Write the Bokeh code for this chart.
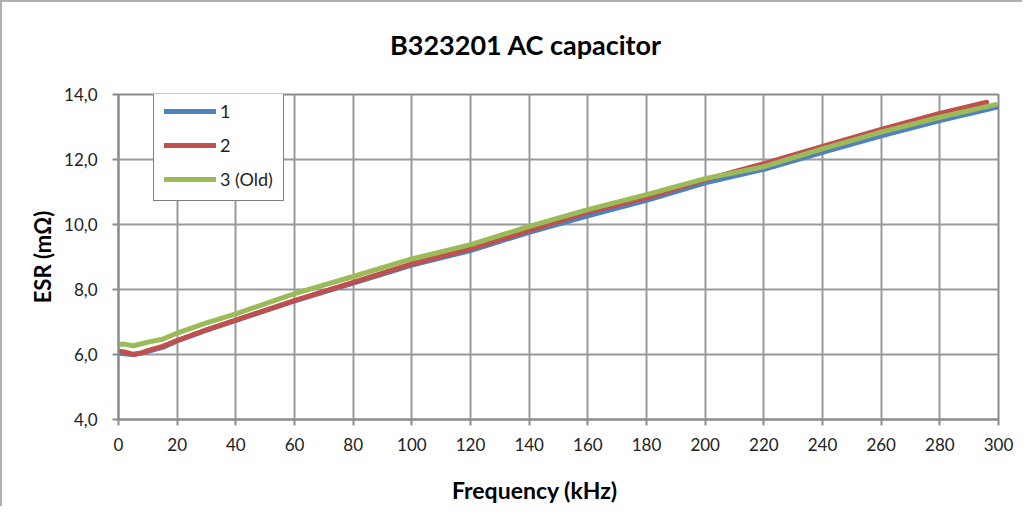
from bokeh.plotting import figure
from bokeh.models import Range1d, FixedTicker, Legend, LegendItem, Div
from bokeh.layouts import column
from bokeh.embed import file_html
from bokeh.resources import INLINE

FONT = "Lato"

freq1 = [0, 2, 5, 8, 10, 15, 20, 30, 40, 60, 80, 100, 120, 140, 160, 180, 200, 220, 240, 260, 280, 300]
esr1 = [6.05, 6.02, 6.00, 6.05, 6.10, 6.22, 6.42, 6.75, 7.05, 7.65, 8.20, 8.75, 9.20, 9.76, 10.27, 10.74, 11.28, 11.70, 12.22, 12.73, 13.20, 13.62]

freq2 = [0, 2, 5, 8, 10, 15, 20, 30, 40, 60, 80, 100, 120, 140, 160, 180, 200, 220, 240, 260, 280, 296]
esr2 = [6.10, 6.08, 6.00, 6.05, 6.12, 6.25, 6.43, 6.76, 7.06, 7.66, 8.22, 8.79, 9.25, 9.82, 10.38, 10.82, 11.38, 11.87, 12.40, 12.93, 13.42, 13.76]

freq3 = [0, 2, 5, 8, 10, 15, 20, 30, 40, 60, 80, 100, 120, 140, 160, 180, 200, 220, 240, 260, 280, 299]
esr3 = [6.31, 6.32, 6.27, 6.33, 6.38, 6.47, 6.66, 6.97, 7.25, 7.87, 8.40, 8.94, 9.38, 9.94, 10.46, 10.92, 11.41, 11.78, 12.33, 12.84, 13.30, 13.69]

series_names = ["1", "2", "3 (Old)"]
series_colors = ["#4F81BD", "#C0504D", "#9BBB59"]

x_ticks = list(range(0, 301, 20))
y_ticks = [4, 6, 8, 10, 12, 14]
y_tick_labels = ["4,0", "6,0", "8,0", "10,0", "12,0", "14,0"]

title_text = "B323201 AC capacitor"
x_label = "Frequency (kHz)"
y_label = "ESR (m\u03a9)"

title_div = Div(text=title_text, width=1020, height=58, margin=0,
                styles={"font-family": FONT, "font-size": "27px", "font-weight": "bold",
                        "color": "#000000", "line-height": "32px",
                        "padding-top": "27px", "padding-left": "388px", "box-sizing": "border-box",
                        "white-space": "nowrap"})

p = figure(width=1020, height=399, output_backend="svg", toolbar_location=None,
           x_range=Range1d(0, 300), y_range=Range1d(4, 14), margin=0,
           min_border_left=116, min_border_right=24, min_border_top=34, min_border_bottom=40)

p.outline_line_color = "#8c8c8c"
p.outline_line_width = 2

for ax in (p.xaxis[0], p.yaxis[0]):
    ax.axis_line_color = "#8c8c8c"
    ax.axis_line_width = 2
    ax.major_tick_line_color = "#8c8c8c"
    ax.major_tick_line_width = 2
    ax.major_tick_out = 6
    ax.major_tick_in = 0
    ax.minor_tick_line_color = None
    ax.major_label_text_font = FONT
    ax.major_label_text_font_size = "17px"
    ax.major_label_text_color = "#222222"

p.xaxis.ticker = FixedTicker(ticks=x_ticks)
p.yaxis.ticker = FixedTicker(ticks=y_ticks)
p.yaxis.major_label_overrides = {t: s for t, s in zip(y_ticks, y_tick_labels)}
p.xaxis.major_label_standoff = 12
p.yaxis.major_label_standoff = 15

p.yaxis.axis_label = y_label
p.yaxis.axis_label_text_font = FONT
p.yaxis.axis_label_text_font_size = "22px"
p.yaxis.axis_label_text_font_style = "bold"
p.yaxis.axis_label_text_color = "#000000"
p.yaxis.axis_label_standoff = 5

p.grid.grid_line_color = "#999999"
p.grid.grid_line_width = 2
p.xgrid.ticker = FixedTicker(ticks=x_ticks)
p.ygrid.ticker = FixedTicker(ticks=y_ticks)

renderers = []
for fx, fy, c in ((freq1, esr1, series_colors[0]), (freq2, esr2, series_colors[1]), (freq3, esr3, series_colors[2])):
    r = p.line(fx, fy, line_color=c, line_width=5, line_join="round", line_cap="round")
    renderers.append(r)

legend = Legend(items=[LegendItem(label=n, renderers=[r]) for n, r in zip(series_names, renderers)],
                location=(35, 218), orientation="vertical")
legend.border_line_color = "#000000"
legend.border_line_width = 1.5
legend.background_fill_color = "#ffffff"
legend.background_fill_alpha = 1
legend.padding = 10
legend.spacing = 12
legend.margin = 0
legend.glyph_width = 52
legend.glyph_height = 20
legend.label_height = 20
legend.label_standoff = 4
legend.label_text_font = FONT
legend.label_text_font_size = "18px"
legend.label_text_color = "#222222"
p.add_layout(legend, "center")

xlabel_div = Div(text=x_label, width=1020, height=47, margin=0,
                 styles={"font-family": FONT, "font-size": "23px", "font-weight": "bold",
                         "color": "#000000", "line-height": "28px",
                         "padding-top": "17px", "padding-left": "450px", "box-sizing": "border-box",
                         "white-space": "nowrap"})

layout = column(title_div, p, xlabel_div, spacing=0, margin=0,
                styles={"border-left": "2px solid #b0b0b0", "border-top": "2px solid #b0b0b0",
                        "background-color": "#ffffff"})

open("out.html", "w").write(file_html(layout, INLINE))
